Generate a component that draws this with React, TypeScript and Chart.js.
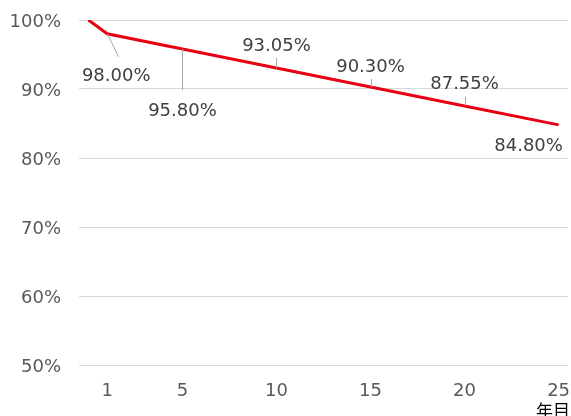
import React, { useEffect, useRef } from "react";
import { Chart, registerables } from "chart.js";

Chart.register(...registerables);

// Data
const years: number[] = [0, 1, 5, 10, 15, 20, 25];
const retention: number[] = [100, 98.0, 95.8, 93.05, 90.3, 87.55, 84.8];
const xTickValues: number[] = [1, 5, 10, 15, 20, 25];
const yTicks: number[] = [50, 60, 70, 80, 90, 100];
const xUnitLabel = "年目";

// Label placement (styling only): text offset and leader end offset relative to point
const labelPlacement: ({ dx: number; dy: number; lx?: number; ly?: number } | null)[] = [
  null,
  { dx: 9, dy: 43, lx: 11, ly: 23 },
  { dx: 0, dy: 62, lx: 0, ly: 41 },
  { dx: 0, dy: -22, lx: 0, ly: -10 },
  { dx: 0, dy: -20, lx: 0, ly: -8 },
  { dx: 0, dy: -22, lx: 0, ly: -9 },
  { dx: -30, dy: 21 },
];

const FONT = "'DejaVu Sans', Verdana, sans-serif";

const labelPlugin = {
  id: "pointLabels",
  afterDatasetsDraw(chart: any) {
    const ctx = chart.ctx;
    const meta = chart.getDatasetMeta(0);
    ctx.save();
    meta.data.forEach((pt: any, i: number) => {
      const p = labelPlacement[i];
      if (!p) return;
      if (p.lx !== undefined && p.ly !== undefined) {
        ctx.strokeStyle = "#a6a6a6";
        ctx.lineWidth = 1;
        ctx.beginPath();
        ctx.moveTo(Math.round(pt.x) + 0.5, pt.y);
        ctx.lineTo(Math.round(pt.x + p.lx) + 0.5, pt.y + p.ly);
        ctx.stroke();
      }
      ctx.fillStyle = "#404040";
      ctx.font = `18px ${FONT}`;
      ctx.textAlign = "center";
      ctx.textBaseline = "middle";
      ctx.fillText(retention[i].toFixed(2) + "%", pt.x + p.dx, pt.y + p.dy);
    });
    // unit label
    ctx.fillStyle = "#000000";
    ctx.font = `17px 'Noto Sans CJK JP', sans-serif`;
    ctx.textAlign = "center";
    ctx.textBaseline = "middle";
    ctx.fillText(xUnitLabel, 553, 411);
    ctx.restore();
  },
};

export default function App() {
  const ref = useRef<HTMLCanvasElement | null>(null);
  useEffect(() => {
    if (!ref.current) return;
    const chart = new Chart(ref.current, {
      type: "line",
      data: {
        datasets: [
          {
            data: years.map((x, i) => ({ x, y: retention[i] })),
            borderColor: "#e60012",
            borderWidth: 3,
            pointRadius: 0,
            fill: false,
            tension: 0,
          },
        ],
      },
      options: {
        responsive: false,
        animation: false,
        devicePixelRatio: 1,
        layout: { padding: { top: 20, right: 3, left: 0, bottom: 0 } },
        plugins: { legend: { display: false }, tooltip: { enabled: false } },
        scales: {
          x: {
            type: "linear",
            min: -0.5,
            max: 25.5,
            grid: { display: false },
            border: { display: false },
            afterBuildTicks: (s: any) => {
              s.ticks = xTickValues.map((v) => ({ value: v }));
            },
            afterFit: (s: any) => {
              s.height = 51;
              s.paddingLeft = 0;
              s.paddingRight = 0;
            },
            ticks: {
              color: "#595959",
              font: { family: FONT, size: 18 },
              padding: 8,
              maxRotation: 0,
              autoSkip: false,
              callback: (v: any) => String(v),
            },
          },
          y: {
            min: 50,
            max: 100,
            grid: { color: "#d9d9d9", drawTicks: false, lineWidth: 1 },
            border: { display: false },
            afterBuildTicks: (s: any) => {
              s.ticks = yTicks.map((v) => ({ value: v }));
            },
            afterFit: (s: any) => {
              s.width = 79;
              s.paddingTop = 0;
              s.paddingBottom = 0;
            },
            ticks: {
              color: "#595959",
              font: { family: FONT, size: 18 },
              padding: 18,
              labelOffset: 2,
              callback: (v: any) => v + "%",
            },
          },
        },
      },
      plugins: [labelPlugin],
    });
    return () => chart.destroy();
  }, []);
  return (
    <div style={{ position: "fixed", left: 0, top: 0, width: 571, height: 416, background: "#fff" }}>
      <canvas ref={ref} width={571} height={416} style={{ display: "block" }} />
    </div>
  );
}
